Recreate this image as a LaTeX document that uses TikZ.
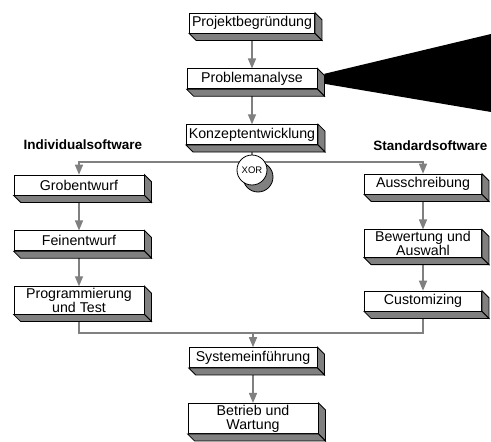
\documentclass[tikz,border=0pt]{standalone}
\usepackage{fontspec}
\setmainfont{Liberation Sans}
\usetikzlibrary{calc,arrows,backgrounds,positioning}

\definecolor{shade}{gray}{0.5}
\definecolor{linegray}{gray}{0.5}

\begin{document}
\begin{tikzpicture}[x=1pt,y=1pt,node distance=35pt,
    phase/.style={
    % The shape:
    rectangle,minimum width=126pt,minimum height=20pt,inner xsep=2.5pt,inner ysep=1.5pt,
    % The rest
    draw=black,line width=0.8pt,fill=white,align=center,
    font=\fontsize{14.2pt}{14pt}\selectfont},
    branch/.style={font=\fontsize{13.5pt}{14pt}\selectfont\bfseries},
    flow/.style={draw=linegray,line width=1.3pt,->,>=triangle 45},
    link/.style={draw=linegray,line width=1.3pt}]
    \useasboundingbox (0,0) rectangle (491,-442);
    % main line
    \node (begr) [phase,minimum width=122pt] at (252,-23) {Projektbegründung};
    \node (prob) [phase,minimum width=130pt,below=of begr] {Problemanalyse};
    \node (konz) [phase,below=of prob] {Konzeptentwicklung};
    \node (xor) [circle,draw,line width=0.8pt,fill=white,minimum size=30pt,inner sep=0pt,
      font=\fontsize{9.5pt}{10pt}\selectfont] at (252,-170) {XOR};
    % individual software
    \node (indiv) [branch,anchor=west] at (20,-145) {Individualsoftware};
    \node (grob) [phase,minimum width=130pt] at (79,-185) {Grobentwurf};
    \node (fein) [phase,minimum width=130pt,below=of grob] {Feinentwurf};
    \node (prog) [phase,minimum width=130pt,below=of fein] {Programmierung\\und Test};
    % standard software
    \node (std) [branch,anchor=east] at (491,-146) {Standardsoftware};
    \node (auss) [phase,minimum width=117pt] at (423,-184) {Ausschreibung};
    \node (bew) [phase,minimum width=117pt,below=of auss] {Bewertung und\\Auswahl};
    \node (cust) [phase,minimum width=117pt,below=33pt of bew] {Customizing};
    % introduction
    \node (syst) [phase,minimum width=128pt] at (253,-357.5) {Systemeinführung};
    \node (betr) [phase,minimum width=130pt,below=of syst] {Betrieb und\\Wartung};
    % wedge
    \fill ($(prob.east)+(7,5)$) -- (491,-34) -- (491,-112) -- ($(prob.east)+(7,-5)$) -- cycle;
    % depth of the boxes
    \foreach \n in {begr,prob,konz,grob,fein,prog,auss,bew,cust,syst,betr}{
      \draw[fill=shade,line width=0.8pt] (\n.north east) -- ++(7,-7)
        -- ($(\n.south east)+(7,-7)$) -- (\n.south east) -- cycle;
      \draw[fill=shade,line width=0.8pt] (\n.south west) -- ++(7,-7)
        -- ($(\n.south east)+(7,-7)$) -- (\n.south east) -- cycle;
    }
    \begin{scope}[on background layer]
      \draw[flow] (begr.south) -- (prob.north);
      \draw[flow] (prob.south) -- (konz.north);
      \draw[link] (konz.south) -- (xor.north);
      \coordinate (split) at (xor.center |- 0,-162);
      \draw[flow] (split) -| (grob.north);
      \draw[flow] (split) -| (auss.north);
      \draw[flow] (grob.south) -- (fein.north);
      \draw[flow] (fein.south) -- (prog.north);
      \draw[flow] (auss.south) -- (bew.north);
      \draw[flow] (bew.south) -- (cust.north);
      \coordinate (merge) at (syst.north |- 0,-333);
      \draw[link] (prog.south) |- (merge) -| (cust.south);
      \draw[flow] (merge) -- (syst.north);
      \draw[flow] (syst.south) -- (betr.north);
      \draw[fill=shade,line width=0.8pt] ($(xor.center)+(6,-7)$) circle (15);
    \end{scope}
\end{tikzpicture}
\end{document}
